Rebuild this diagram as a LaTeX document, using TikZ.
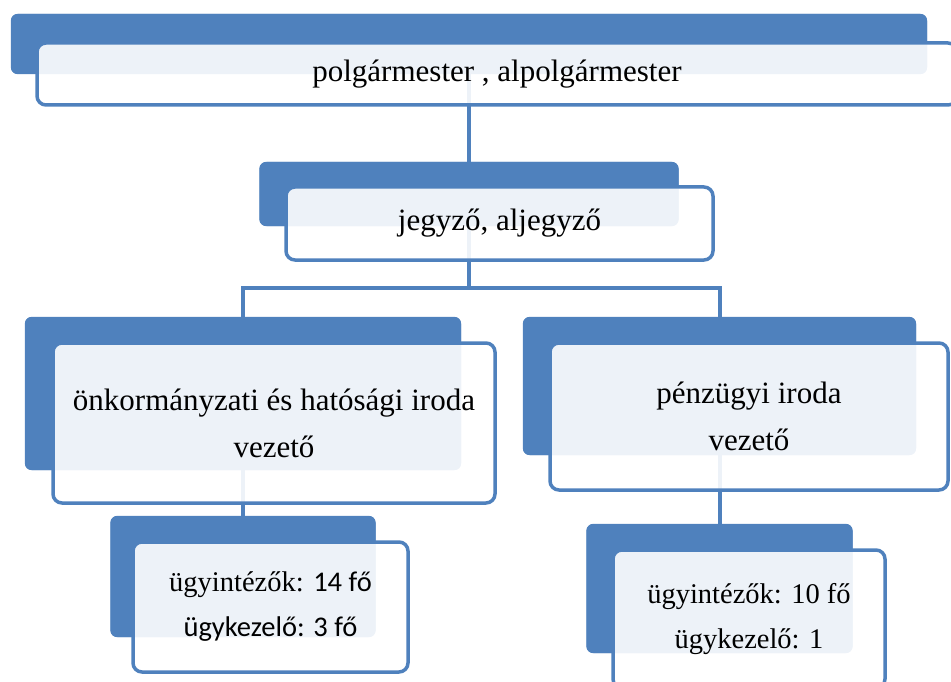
\documentclass[tikz,border=0pt]{standalone}
\usepackage{fontspec}
\newfontfamily\libserif{Liberation Serif}
\newfontfamily\calibri{Carlito}
\usepackage{xcolor}
\usetikzlibrary{positioning, calc}

\definecolor{officeblue}{HTML}{4F81BD}

\begin{document}
\begin{tikzpicture}[
    x=1pt, y=-1pt,
    back/.style={rectangle, rounded corners=7pt, fill=officeblue, draw=none, inner sep=0pt},
    front/.style={rectangle, rounded corners=9pt, draw=officeblue, line width=3.5pt, preaction={fill=white, fill opacity=0.9}, inner sep=0pt, align=center, font=\libserif\fontsize{31}{47}\selectfont},
    small/.style={front, font=\libserif\fontsize{28.5}{45}\selectfont},
    link/.style={draw=officeblue, line width=4pt}
]
\useasboundingbox (0,0) rectangle (951,682);

% Back boxes
\node[back, minimum width=916, minimum height=60] (pm) at (469,44) {};
\node[back, minimum width=419, minimum height=64] (jz) at (469,194) {};
\node[back, minimum width=436, minimum height=153] (ok) at (243,393.5) {};
\node[back, minimum width=393, minimum height=138] (pu) at (719.5,386) {};
\node[back, minimum width=265, minimum height=121] (okb) at (243,576.5) {};
\node[back, minimum width=266, minimum height=129] (pub) at (719.5,588.5) {};

% Connectors
\coordinate (split) at (469,288);
\draw[link] (pm.center) -- (jz.center);
\draw[link] (jz.center) -- (split);
\draw[link] (split) -| (ok.center);
\draw[link] (split) -| (pu.center);
\draw[link] (ok.center) -- (okb.center);
\draw[link] (pu.center) -- (pub.center);

% Back boxes again over the connectors
\foreach \n in {pm, jz, ok, pu, okb, pub}
    \fill[officeblue, rounded corners=7pt] (\n.north west) rectangle (\n.south east);

% Front boxes
\node[front, minimum width=920, minimum height=62] (pmT) at (497,74) {polgármester , alpolgármester};
\node[front, minimum width=427, minimum height=73] (jzT) at (499.5,223.5) {jegyző, aljegyző};
\node[front, minimum width=442, minimum height=160] (okT) at (274,423) {önkormányzati és hatósági iroda\\vezető};
\node[front, minimum width=398, minimum height=147] (puT) at (749,416.5) {pénzügyi iroda\\vezető};
\node[small, minimum width=275, minimum height=130] (okbT) at (270.5,607) {ügyintézők: {\calibri 14 fő}\\{\calibri ügykezelő: 3 fő}};
\node[small, minimum width=272, minimum height=138] (pubT) at (749,619) {ügyintézők: 10 fő\\ügykezelő: 1};

\end{tikzpicture}
\end{document}
